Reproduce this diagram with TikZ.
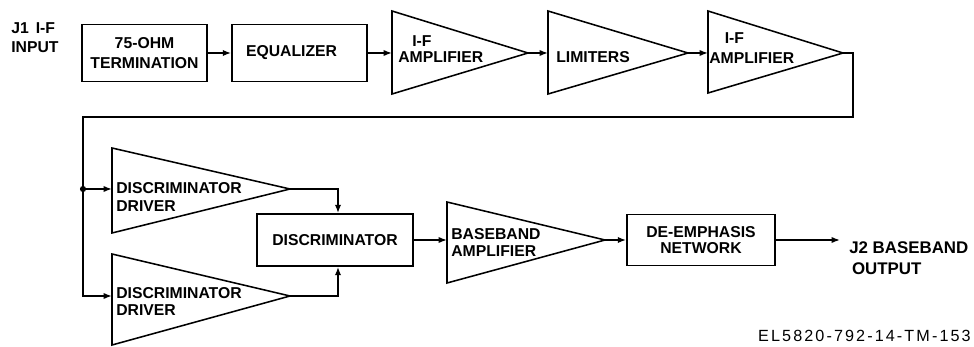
\documentclass[tikz,border=0pt]{standalone}
\usepackage{fontspec}
\setmainfont{Liberation Sans}
\newfontfamily\codefont[LetterSpace=13]{Liberation Sans}
\usetikzlibrary{arrows.meta,positioning,calc}

\tikzset{
  blk/.style={draw, line width=1.1pt, inner sep=0pt, align=center,
    font=\bfseries\fontsize{11.2}{12}\selectfont},
  lbl/.style={inner sep=0pt, align=left, font=\bfseries\fontsize{11.2}{12}\selectfont},
  amp/.style={draw, line width=1.1pt, line join=miter},
  wire/.style={line width=1.1pt},
  sig/.style={line width=1.1pt, -{Latex[length=6pt,width=4.5pt]}},
}

\begin{document}
\begin{tikzpicture}[x=0.025cm, y=-0.025cm]
\useasboundingbox (0,0) rectangle (974,347);

% top row
\node[lbl, anchor=north west] (jin) at (11,22) {J1 \,I-F\\[2pt]INPUT};
\node[blk, minimum width=3.125cm, minimum height=1.425cm] (term) at (144.5,53) {75-OHM\\[2pt]TERMINATION};
\node[blk, minimum width=3.375cm, minimum height=1.425cm] (eq) at (299.5,53) {EQUALIZER\hspace*{0.4cm}};

\draw[amp] (392,11) -- (528,53) coordinate (ifa1 out) -- (392,94) -- cycle;
\coordinate (ifa1 in) at (392,53);
\node[lbl, anchor=north west] (ifa1 txt) at (398,35) {\hspace*{10pt}I-F\\AMPLIFIER};

\draw[amp] (548,11) -- (688,53) coordinate (lim out) -- (548,94) -- cycle;
\coordinate (lim in) at (548,53);
\node[lbl, anchor=north west] (lim txt) at (556,51) {LIMITERS};

\draw[amp] (708,11) -- (843,53) coordinate (ifa2 out) -- (708,93) -- cycle;
\coordinate (ifa2 in) at (708,53);
\node[lbl, anchor=north west] (ifa2 txt) at (709,32) {\hspace*{11pt}I-F\\[2.5pt]AMPLIFIER};

\draw[sig] (term) -- (eq);
\draw[sig] (eq) -- (ifa1 in);
\draw[sig] (ifa1 out) -- (lim in);
\draw[sig] (lim out) -- (ifa2 in);

% return line and drivers
\coordinate (bend r) at (853,117);
\coordinate (bend l) at (83,117);
\coordinate (fork) at (83,189);

\draw[amp] (112,148) -- (290,189) coordinate (dd1 out) -- (112,233) -- cycle;
\coordinate (dd1 in) at (112,189);
\node[lbl, anchor=north west] (dd1 txt) at (116,182) {DISCRIMINATOR\\[1pt]DRIVER};

\draw[amp] (112,254) -- (290,296) coordinate (dd2 out) -- (112,345) -- cycle;
\coordinate (dd2 in) at (112,296);
\node[lbl, anchor=north west] (dd2 txt) at (116,287) {DISCRIMINATOR\\DRIVER};

\draw[wire] (ifa2 out) -| (bend r) -- (bend l) -- (fork);
\draw[sig] (fork) -- (dd1 in);
\draw[sig] (fork) |- (dd2 in);
\fill (fork) circle (2.2pt);

% bottom row
\node[blk, minimum width=3.9cm, minimum height=1.3cm] (disc) at (335,240) {DISCRIMINATOR};
\draw[sig] (dd1 out) -| ([xshift=0.075cm]disc.north);
\draw[sig] (dd2 out) -| ([xshift=0.075cm]disc.south);

\draw[amp] (447,202) -- (605,240) coordinate (bb out) -- (447,283) -- cycle;
\coordinate (bb in) at (447,240);
\node[lbl, anchor=north west] (bb txt) at (451,228) {BASEBAND\\AMPLIFIER};

\node[blk, minimum width=3.7cm, minimum height=1.275cm] (demph) at (701,240) {DE-EMPHASIS\\[-0.5pt]NETWORK};
\coordinate (out) at (840,240);

\draw[sig] (disc) -- (bb in);
\draw[sig] (bb out) -- (demph);
\draw[sig] (demph) -- (out);

\node[lbl, anchor=north west, font=\bfseries\fontsize{12}{12}\selectfont] (jout) at (849,241) {J2 BASEBAND\\[3.5pt]\hspace*{2pt}OUTPUT};
\node[lbl, anchor=north east, font=\codefont\fontsize{11.5}{12}\selectfont] (code) at (971,330) {EL5820-792-14-TM-153};
\end{tikzpicture}
\end{document}
